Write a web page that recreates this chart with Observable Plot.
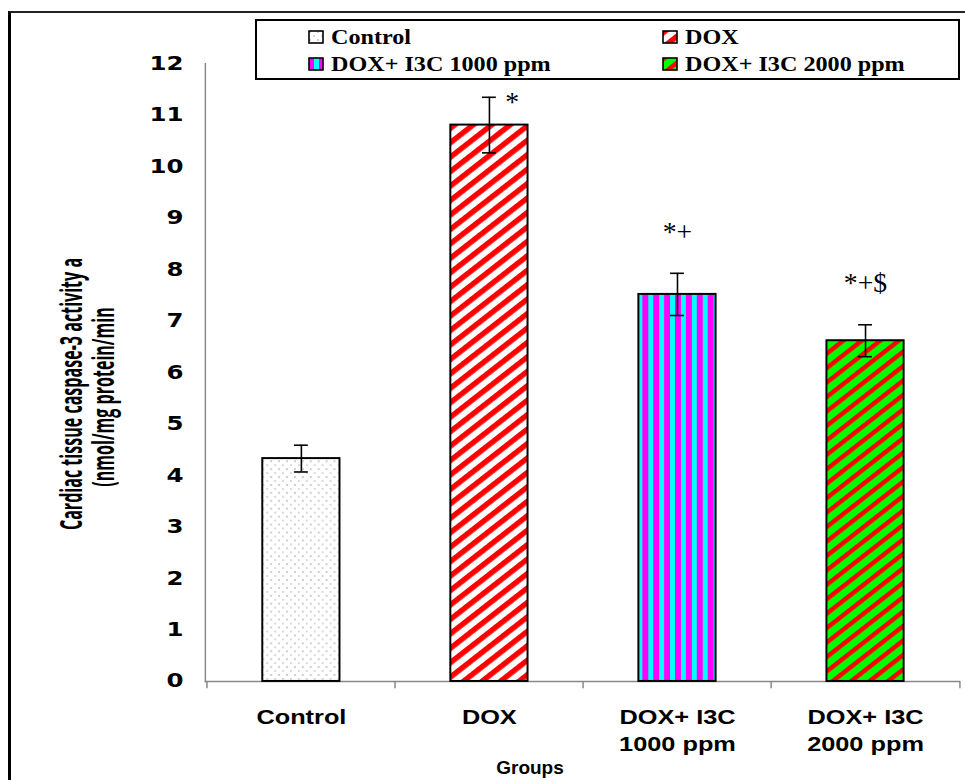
<!DOCTYPE html>
<html><head><meta charset="utf-8">
<script src="https://cdn.jsdelivr.net/npm/d3@7"></script>
<script src="https://cdn.jsdelivr.net/npm/@observablehq/plot@0.6"></script>
<style>
html,body{margin:0;padding:0;overflow:hidden;background:#fff;width:965px;height:780px;}
#wrap{position:relative;width:965px;height:780px;overflow:hidden;}
#frame{position:absolute;left:8px;top:11px;width:1200px;height:1200px;border-left:3px solid #000;border-top:2.5px solid #222;}
#chart{position:absolute;left:0;top:0;}
#legend{position:absolute;left:255px;top:19px;width:701px;height:57px;border:2px solid #000;background:#fff;font-family:"Liberation Serif","Times New Roman",serif;font-weight:bold;font-size:21px;color:#000;}
.item{position:absolute;display:flex;align-items:center;white-space:nowrap;height:20px;transform:translateY(-50%);}
.item svg{margin-right:7px;display:block}
.item span{display:inline-block;transform:scaleX(1.15);transform-origin:left center;}
.ylab{position:absolute;white-space:nowrap;font-family:"Open Sans","Liberation Sans",sans-serif;font-weight:bold;font-size:30px;line-height:1;color:#000;}
#xtitle{position:absolute;left:530px;top:768px;transform:translate(-50%,-50%);font-family:"Liberation Sans",Arial,sans-serif;font-weight:bold;font-size:19px;color:#000;white-space:nowrap;}
</style>
</head><body>
<div id="wrap">
  <div id="frame"></div>
  <div id="chart"></div>
  <div id="legend"></div>
  <div class="ylab" id="ylab1" style="left:71px;top:394px;"></div>
  <div class="ylab" id="ylab2" style="left:103px;top:397px;"></div>
  <div id="xtitle"></div>
</div>
<script>
// ---- data ----
const groups = ["Control", "DOX", "DOX+ I3C 1000 ppm", "DOX+ I3C 2000 ppm"];
const means = [4.33, 10.81, 7.52, 6.62];
const sems = [0.26, 0.54, 0.41, 0.31];
const sigLabels = ["", "*", "*+", "*+$"];
const xTickLabels = ["Control", "DOX", "DOX+ I3C\n1000 ppm", "DOX+ I3C\n2000 ppm"];
const yTicks = [0, 1, 2, 3, 4, 5, 6, 7, 8, 9, 10, 11, 12];
const yLabelLines = ["Cardiac tissue caspase-3 activity a", "(nmol/mg protein/min"];
const xTitle = "Groups";
const patternIds = ["pat-control", "pat-dox", "pat-i3c1000", "pat-i3c2000"];

const data = groups.map((g, i) => ({
  group: g, mean: means[i], sem: sems[i], sig: sigLabels[i], fill: `url(#${patternIds[i]})`
}));

// ---- patterns ----
function defsMark() {
  const defs = d3.create("svg:defs");
  const p0 = defs.append("pattern").attr("id", "pat-control").attr("patternUnits", "userSpaceOnUse")
    .attr("width", 8).attr("height", 8);
  p0.append("rect").attr("width", 8).attr("height", 8).attr("fill", "#fff");
  p0.append("circle").attr("cx", 2).attr("cy", 2).attr("r", 0.9).attr("fill", "#b8b8b8");
  p0.append("circle").attr("cx", 6).attr("cy", 6).attr("r", 0.9).attr("fill", "#c8c8c8");
  const p1 = defs.append("pattern").attr("id", "pat-dox").attr("patternUnits", "userSpaceOnUse")
    .attr("width", 20).attr("height", 11.5).attr("patternTransform", "rotate(-38)");
  p1.append("rect").attr("width", 20).attr("height", 11.5).attr("fill", "#fff");
  p1.append("rect").attr("width", 20).attr("height", 5.5).attr("fill", "#ff0000");
  const p2 = defs.append("pattern").attr("id", "pat-i3c1000").attr("patternUnits", "userSpaceOnUse")
    .attr("width", 11).attr("height", 10);
  p2.append("rect").attr("width", 11).attr("height", 10).attr("fill", "#00ffff");
  p2.append("rect").attr("width", 6).attr("height", 10).attr("fill", "#ff00ff");
  const p3 = defs.append("pattern").attr("id", "pat-i3c2000").attr("patternUnits", "userSpaceOnUse")
    .attr("width", 20).attr("height", 11.5).attr("patternTransform", "rotate(-38)");
  p3.append("rect").attr("width", 20).attr("height", 11.5).attr("fill", "#00ff00");
  p3.append("rect").attr("width", 20).attr("height", 4.5).attr("fill", "#ff0000");
  return defs.node();
}

const W = 975, ML = 207, MR = 5;
const step = (W - ML - MR) / groups.length;

const chart = Plot.plot({
  width: W,
  height: 780,
  marginLeft: ML,
  marginRight: MR,
  marginTop: 64,
  marginBottom: 92,
  style: {fontFamily: "'Liberation Sans', Arial, sans-serif", color: "#000", background: "transparent", overflow: "visible"},
  x: {domain: groups, paddingInner: 0.59, paddingOuter: 0.295, label: null},
  y: {domain: [0, 12], label: null},
  color: {type: "identity"},
  marks: [
    defsMark,
    Plot.frame({anchor: "left", stroke: "#888", strokeWidth: 1.5}),
    Plot.ruleY([0], {stroke: "#888", strokeWidth: 1.5}),
    Plot.ruleX(data, {x: "group", dx: -step / 2, y1: 0, y2: -0.14, stroke: "#888", strokeWidth: 1.5}),
    Plot.ruleX(data.slice(-1), {x: "group", dx: step / 2, y1: 0, y2: -0.14, stroke: "#888", strokeWidth: 1.5}),
    Plot.barY(data, {x: "group", y: "mean", fill: "fill", stroke: "#000", strokeWidth: 2}),
    Plot.ruleX(data, {x: "group", y1: d => d.mean - d.sem, y2: d => d.mean + d.sem, stroke: "#000", strokeWidth: 1.6}),
    Plot.tickY(data, {x: "group", y: d => d.mean + d.sem, insetLeft: 32, insetRight: 32, stroke: "#000", strokeWidth: 1.6}),
    Plot.tickY(data, {x: "group", y: d => d.mean - d.sem, insetLeft: 32, insetRight: 32, stroke: "#000", strokeWidth: 1.6}),
    Plot.axisY({ticks: yTicks, tickSize: 0, tickPadding: 22, fontSize: 19, fontWeight: "bold", fontFamily: "'DejaVu Sans', Verdana, sans-serif", label: null}),
    Plot.axisX({tickSize: 0, tickPadding: 24, tickFormat: d => xTickLabels[groups.indexOf(d)], fontSize: 20, fontWeight: "bold", lineHeight: 1.35, label: null}),
    Plot.text(data.filter(d => d.sig.length > 1), {x: "group", y: d => d.mean + d.sem, text: "sig", dy: -42, fontSize: 28, fontFamily: "'Liberation Serif', 'Times New Roman', serif"}),
    Plot.text(data.filter(d => d.sig.length === 1), {x: "group", y: d => d.mean + d.sem, text: "sig", dx: 23, dy: 5, fontSize: 28, fontFamily: "'Liberation Serif', 'Times New Roman', serif"})
  ]
});
document.getElementById("chart").appendChild(chart);

// horizontally stretch the axis tick labels about their anchor (the reference text is widened)
function stretch(selector, s, anchor) {
  chart.querySelectorAll(selector).forEach(t => {
    const r = t.getBoundingClientRect();
    const cx = anchor === "end" ? r.right : r.left + r.width / 2;
    const cy = r.top + r.height / 2;
    const parent = t.parentNode;
    const m = parent.getScreenCTM().inverse();
    const p = new DOMPoint(cx, cy).matrixTransform(m);
    const g = document.createElementNS("http://www.w3.org/2000/svg", "g");
    g.setAttribute("transform", `translate(${p.x},${p.y}) scale(${s},1) translate(${-p.x},${-p.y})`);
    parent.insertBefore(g, t);
    g.appendChild(t);
  });
}
stretch('g[aria-label="y-axis tick label"] text', 1.3, "end");
stretch('g[aria-label="x-axis tick label"] text', 1.28, "middle");

// ---- legend ----
const legend = document.getElementById("legend");
const legendPos = [[51, 16], [405, 16], [51, 43], [405, 43]];
groups.forEach((g, i) => {
  const item = document.createElement("div");
  item.className = "item";
  item.style.left = legendPos[i][0] + "px";
  item.style.top = legendPos[i][1] + "px";
  item.innerHTML = `<svg width="16" height="14"><rect x="1" y="1" width="14" height="12" fill="url(#${patternIds[i]})" stroke="#000" stroke-width="1.6"/></svg><span>${g}</span>`;
  legend.appendChild(item);
});

// ---- y label (condensed, rotated) ----
const y1 = document.getElementById("ylab1"), y2 = document.getElementById("ylab2");
y1.textContent = yLabelLines[0];
y2.textContent = yLabelLines[1];
const f = 272 / y1.offsetWidth;
[y1, y2].forEach(el => { el.style.transform = `translate(-50%,-50%) rotate(-90deg) scaleX(${f})`; });
document.getElementById("xtitle").textContent = xTitle;
</script>
</body></html>
